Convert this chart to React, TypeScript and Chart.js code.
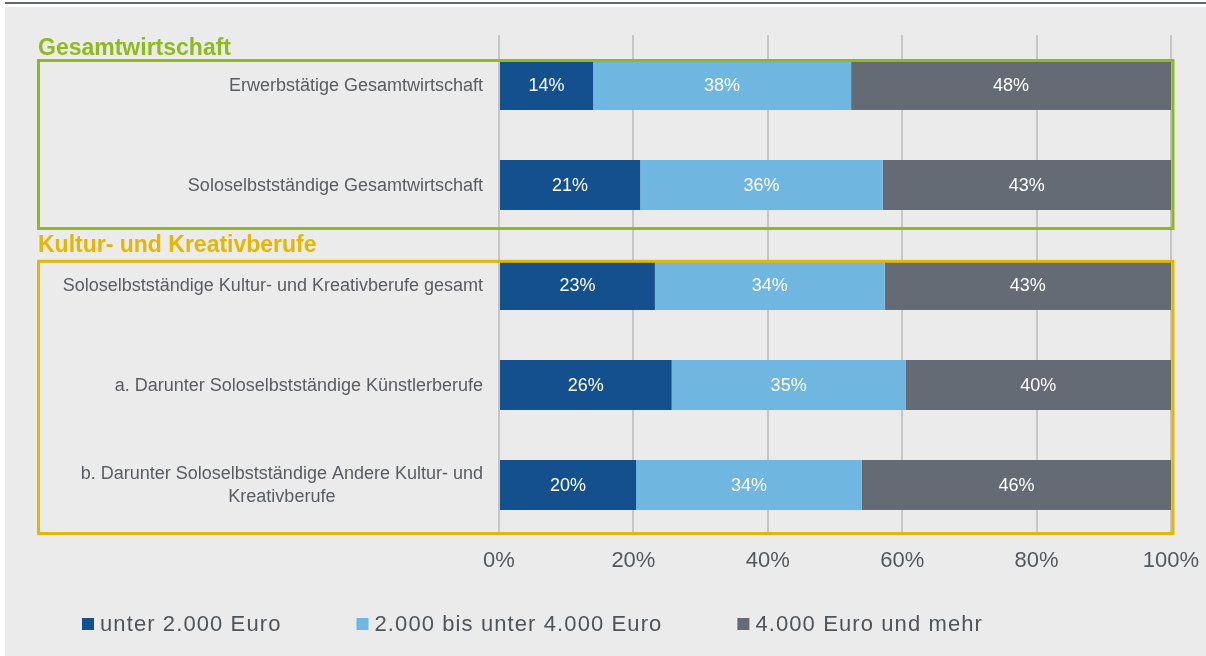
import React, { useEffect, useRef } from "react";
import { Chart, registerables } from "chart.js";

Chart.register(...registerables);

// ---------- data ----------
const categories: string[][] = [
  ["Erwerbstätige Gesamtwirtschaft"],
  ["Soloselbstständige Gesamtwirtschaft"],
  ["Soloselbstständige Kultur- und Kreativberufe gesamt"],
  ["a. Darunter Soloselbstständige Künstlerberufe"],
  ["b. Darunter Soloselbstständige Andere Kultur- und", "Kreativberufe"],
];
const seriesNames = ["unter 2.000 Euro", "2.000 bis unter 4.000 Euro", "4.000 Euro und mehr"];
const under2000 = [14.0, 21.0, 23.2, 25.7, 20.4];
const from2000to4000 = [38.4, 36.1, 34.2, 34.8, 33.6];
const from4000 = [47.6, 42.9, 42.6, 39.5, 46.0];
const xTickValues = [0, 20, 40, 60, 80, 100];
const groupTitles = ["Gesamtwirtschaft", "Kultur- und Kreativberufe"];
const groupFirst = [0, 2];
const groupLast = [1, 4];

// ---------- styles ----------
const FONT = "'Liberation Sans', Arial, sans-serif";
const seriesColors = ["#15508e", "#6fb6e1", "#646b74"];
const groupColors = ["#8dbb1f", "#e4b700"];
const boxTopPad = [24.5, 23.7];
const boxBottomPad = [43.5, 48.5];
const titleGap = [5.5, 9];
const labelColor = "#595c60";

const decorPlugin = {
  id: "decor",
  beforeDraw(chart: any) {
    const { ctx, width, height } = chart;
    ctx.save();
    ctx.fillStyle = "#ffffff";
    ctx.fillRect(0, 0, width, height);
    ctx.fillStyle = "#ebebeb";
    ctx.fillRect(5, 7, width - 5, height - 7);
    ctx.fillStyle = "#62676e";
    ctx.fillRect(5, 2, width - 5, 2);
    ctx.restore();
  },
  afterDatasetsDraw(chart: any) {
    const ctx = chart.ctx;
    ctx.save();
    ctx.font = `18px ${FONT}`;
    ctx.fillStyle = "#ffffff";
    ctx.textAlign = "center";
    ctx.textBaseline = "middle";
    chart.data.datasets.forEach((ds: any, i: number) => {
      const meta = chart.getDatasetMeta(i);
      meta.data.forEach((bar: any, j: number) => {
        const { x, y, base } = bar.getProps(["x", "y", "base"], true);
        ctx.fillText(Math.round(ds.data[j]) + "%", (x + base) / 2, y + 1);
      });
    });
    ctx.restore();
  },
  afterDraw(chart: any) {
    const { ctx, chartArea } = chart;
    const yScale = chart.scales.y;
    ctx.save();

    // category labels
    ctx.font = `18px ${FONT}`;
    ctx.fillStyle = labelColor;
    ctx.textBaseline = "middle";
    ctx.textAlign = "center";
    const rightEdge = chartArea.left - 16;
    const lineH = 23;
    (chart.data.labels as string[][]).forEach((lines, i) => {
      const yc = yScale.getPixelForValue(i);
      const w = Math.max(...lines.map((l) => ctx.measureText(l).width));
      const cx = rightEdge - w / 2;
      const y0 = yc - ((lines.length - 1) * lineH) / 2;
      lines.forEach((l, k) => ctx.fillText(l, cx, y0 + k * lineH + 1));
    });

    // group boxes + titles
    groupTitles.forEach((title, g) => {
      const top = yScale.getPixelForValue(groupFirst[g]) - boxTopPad[g];
      const bottom = yScale.getPixelForValue(groupLast[g]) + boxBottomPad[g];
      const left = 38.5;
      const right = chartArea.right + 2;
      ctx.strokeStyle = groupColors[g];
      ctx.lineWidth = 3;
      ctx.strokeRect(left, top, right - left, bottom - top);
      ctx.fillStyle = groupColors[g];
      ctx.font = `bold 23px ${FONT}`;
      ctx.textAlign = "left";
      ctx.textBaseline = "alphabetic";
      ctx.fillText(title, 38, top - titleGap[g]);
    });

    // legend
    ctx.font = `22px ${FONT}`;
    (ctx as any).letterSpacing = "1.1px";
    ctx.textAlign = "left";
    ctx.textBaseline = "middle";
    let x = 82;
    const ly = 624;
    chart.data.datasets.forEach((ds: any) => {
      ctx.fillStyle = ds.backgroundColor;
      ctx.fillRect(x, ly - 6, 12, 12);
      ctx.fillStyle = "#4f5459";
      ctx.fillText(ds.label, x + 18, ly + 1);
      const w = ctx.measureText(ds.label).width;
      x = x + 18 + w + 75;
    });
    (ctx as any).letterSpacing = "0px";
    ctx.restore();
  },
};

export default function App() {
  const ref = useRef<HTMLCanvasElement | null>(null);
  useEffect(() => {
    document.body.style.margin = "0";
    if (!ref.current) return;
    const values = [under2000, from2000to4000, from4000];
    const chart = new Chart(ref.current, {
      type: "bar",
      data: {
        labels: categories as any,
        datasets: seriesNames.map((name, i) => ({
          label: name,
          data: values[i],
          backgroundColor: seriesColors[i],
          borderWidth: 0,
          categoryPercentage: 1,
          barPercentage: 0.5,
        })),
      },
      options: {
        indexAxis: "y",
        responsive: false,
        animation: false,
        layout: { padding: { left: 499, right: 35, top: 35, bottom: 0 } },
        scales: {
          x: {
            stacked: true,
            min: 0,
            max: 100,
            afterBuildTicks: (s: any) => {
              s.ticks = xTickValues.map((v) => ({ value: v }));
            },
            afterFit: (s: any) => {
              s.height = 121;
              s.paddingLeft = 0;
              s.paddingRight = 0;
            },
            grid: { color: "#c6c6c6", lineWidth: 2, drawTicks: false },
            border: { display: false },
            ticks: {
              padding: 13,
              color: "#53585e",
              font: { family: FONT, size: 22 },
              callback: (v: any) => v + "%",
              maxRotation: 0,
            },
          },
          y: { stacked: true, display: false },
        },
        plugins: {
          legend: { display: false },
          tooltip: { enabled: false },
        },
      },
      plugins: [decorPlugin],
    });
    return () => chart.destroy();
  }, []);
  return (
    <div style={{ width: 1206, height: 656 }}>
      <canvas ref={ref} width={1206} height={656} style={{ display: "block" }} />
    </div>
  );
}
